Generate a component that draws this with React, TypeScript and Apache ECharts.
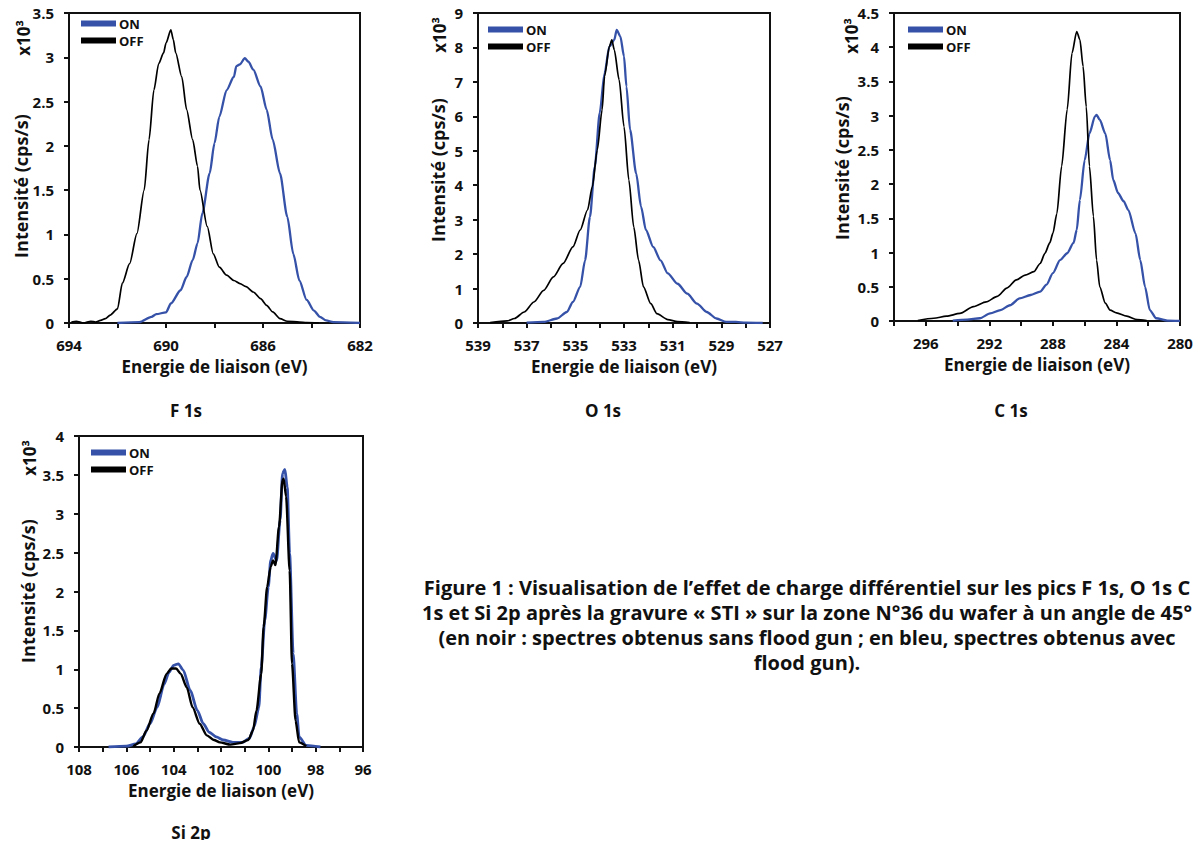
import React, { useEffect, useRef } from "react";
import * as echarts from "echarts";

type Pt = [number, number];

const SERIES_NAMES = ["ON", "OFF"];
const PANEL_TITLES = ["F 1s", "O 1s", "C 1s", "Si 2p"];
const X_AXIS_TITLE = "Energie de liaison (eV)";
const Y_AXIS_TITLE = "Intensité (cps/s)";
const Y_UNIT = "x10³";
const CAPTION_LINES = [
  "Figure 1 : Visualisation de l’effet de charge différentiel sur les pics F 1s, O 1s C",
  "1s et Si 2p après la gravure « STI » sur la zone N°36 du wafer à un angle de 45°",
  "(en noir : spectres obtenus sans flood gun ; en bleu, spectres obtenus avec",
  "flood gun).",
];

// x ranges (eV), y ranges (x10^3 cps/s)
const X_RANGES: [number, number][] = [[682, 694], [527, 539], [280, 298], [96, 108]];
const X_TICK_STEP = [2, 1, 2, 1];
const X_LABEL_STEP = [4, 2, 4, 2];
const Y_MAX = [3.5, 9, 4.5, 4];
const Y_STEP = [0.5, 1, 0.5, 0.5];

const F1S_OFF: Pt[] = [
  [693.9, 0.01], [693.7, 0.02], [693.4, 0.0], [693.1, 0.02], [692.9, 0.01], [692.7, 0.03], [692.5, 0.05], [692.3, 0.09],
  [692.0, 0.16], [691.8, 0.45], [691.5, 0.67], [691.2, 1.01], [690.9, 1.5], [690.7, 2.07],
  [690.5, 2.63], [690.3, 2.93], [690.1, 3.05], [690.0, 3.16], [689.8, 3.31], [689.7, 3.2],
  [689.6, 3.05], [689.35, 2.78], [689.15, 2.41], [688.9, 2.07], [688.7, 1.77], [688.6, 1.5],
  [688.3, 1.09], [688.05, 0.78], [687.8, 0.63], [687.5, 0.54], [687.2, 0.48], [686.95, 0.445],
  [686.7, 0.41], [686.4, 0.35], [686.1, 0.275], [685.85, 0.2], [685.6, 0.125], [685.3, 0.05],
  [685.0, 0.02], [684.5, 0.01], [684.2, 0.005], [683.7, 0.0],
];
const F1S_ON: Pt[] = [
  [692.0, 0.0], [691.1, 0.01], [690.6, 0.07], [690.4, 0.1], [690.0, 0.12], [689.8, 0.22],
  [689.4, 0.37], [689.15, 0.52], [688.9, 0.71], [688.7, 0.9], [688.5, 1.24], [688.2, 1.69],
  [688.0, 2.03], [687.8, 2.33], [687.5, 2.63], [687.2, 2.78], [687.1, 2.9], [686.95, 2.92],
  [686.75, 2.99], [686.6, 2.95], [686.4, 2.86], [686.1, 2.67], [685.85, 2.41], [685.6, 2.07],
  [685.3, 1.69], [685.0, 1.2], [684.75, 0.78], [684.5, 0.48], [684.2, 0.26], [683.9, 0.14],
  [683.65, 0.07], [683.4, 0.03], [683.1, 0.01], [682.0, 0.0],
];
const O1S_OFF: Pt[] = [
  [538.5, 0.01], [537.8, 0.06], [537.5, 0.13], [537.1, 0.32], [536.7, 0.61], [536.3, 0.95],
  [535.9, 1.34], [535.5, 1.73], [535.1, 2.21], [534.8, 2.7], [534.5, 3.28], [534.3, 3.96],
  [534.1, 5.02], [533.9, 6.19], [533.8, 7.16], [533.6, 8.03], [533.5, 8.22], [533.4, 7.93],
  [533.2, 7.06], [533.0, 5.7], [532.8, 4.15], [532.6, 2.79], [532.4, 1.82], [532.2, 1.05],
  [531.9, 0.56], [531.65, 0.27], [531.2, 0.1], [530.8, 0.04], [530.3, 0.01],
];
const O1S_ON: Pt[] = [
  [537.0, 0.01], [536.3, 0.03], [535.75, 0.13], [535.35, 0.32], [535.1, 0.61], [534.8, 1.05],
  [534.6, 1.82], [534.4, 3.08], [534.2, 4.54], [534.0, 6.09], [533.8, 7.25], [533.6, 8.03],
  [533.4, 8.22], [533.3, 8.51], [533.15, 8.32], [533.0, 7.74], [532.9, 6.87], [532.75, 5.61],
  [532.5, 4.34], [532.3, 3.38], [532.1, 2.7], [531.8, 2.21], [531.5, 1.82], [531.2, 1.44],
  [530.8, 1.14], [530.4, 0.85], [530.0, 0.56], [529.6, 0.32], [529.2, 0.13], [528.8, 0.03],
  [528.4, 0.03], [528.0, 0.01], [527.3, 0.0],
];
const C1S_OFF: Pt[] = [
  [296.5, 0.005], [295.5, 0.04], [294.7, 0.07], [293.85, 0.11], [293.0, 0.21], [292.2, 0.28],
  [291.5, 0.36], [290.9, 0.48], [290.3, 0.6], [289.75, 0.67], [289.2, 0.72], [288.8, 0.84],
  [288.5, 0.99], [288.2, 1.14], [288.0, 1.28], [287.75, 1.57], [287.45, 2.26], [287.1, 3.09],
  [286.8, 3.91], [286.5, 4.23], [286.3, 4.11], [286.1, 3.72], [285.9, 3.13], [285.7, 2.26],
  [285.45, 1.53], [285.25, 0.89], [285.05, 0.5], [284.7, 0.26], [284.4, 0.16], [284.0, 0.12],
  [283.35, 0.07], [282.7, 0.02], [282.1, 0.005],
];
const C1S_ON: Pt[] = [
  [294.3, 0.005], [293.4, 0.02], [292.6, 0.04], [291.95, 0.11], [291.3, 0.16], [290.7, 0.23],
  [290.1, 0.33], [289.4, 0.38], [288.8, 0.43], [288.4, 0.53], [288.0, 0.7], [287.55, 0.89],
  [287.1, 0.99], [286.7, 1.14], [286.5, 1.33], [286.3, 1.77], [286.0, 2.35], [285.7, 2.74],
  [285.35, 2.99], [285.25, 3.01], [285.05, 2.94], [284.7, 2.74], [284.4, 2.35], [284.2, 2.06],
  [283.9, 1.87], [283.55, 1.75], [283.25, 1.62], [282.8, 1.28], [282.5, 0.89], [282.2, 0.5],
  [281.9, 0.16], [281.5, 0.04], [280.8, 0.005], [280.0, 0.0],
];
const SI2P_OFF: Pt[] = [
  [105.7, 0.01], [105.4, 0.06], [105.15, 0.21], [104.85, 0.43], [104.6, 0.69], [104.3, 0.94],
  [104.1, 1.01], [103.9, 1.01], [103.7, 0.94], [103.45, 0.77], [103.2, 0.51], [102.9, 0.3],
  [102.6, 0.15], [102.3, 0.09], [102.05, 0.06], [101.6, 0.03], [101.2, 0.05], [100.85, 0.09],
  [100.65, 0.21], [100.5, 0.47], [100.3, 0.94], [100.2, 1.54], [100.05, 2.06], [99.9, 2.32],
  [99.8, 2.4], [99.7, 2.34], [99.55, 2.83], [99.4, 3.43], [99.35, 3.45], [99.25, 3.22],
  [99.1, 2.27], [99.0, 1.07], [98.85, 0.34], [98.7, 0.06], [98.4, 0.01],
];
const SI2P_ON: Pt[] = [
  [106.75, 0.0], [106.0, 0.01], [105.6, 0.04], [105.3, 0.13], [105.0, 0.3], [104.7, 0.51],
  [104.4, 0.81], [104.2, 0.96], [104.0, 1.05], [103.8, 1.07], [103.6, 0.99], [103.3, 0.73],
  [103.0, 0.47], [102.75, 0.3], [102.5, 0.19], [102.2, 0.13], [101.9, 0.09], [101.5, 0.06],
  [101.1, 0.06], [100.8, 0.11], [100.6, 0.26], [100.4, 0.51], [100.3, 1.03], [100.15, 1.63],
  [100.0, 2.06], [99.9, 2.4], [99.8, 2.49], [99.65, 2.4], [99.5, 2.92], [99.4, 3.52],
  [99.3, 3.57], [99.2, 3.34], [99.1, 2.49], [98.95, 1.2], [98.8, 0.43], [98.7, 0.13],
  [98.4, 0.02], [97.8, 0.0],
];

const ON_DATA = [F1S_ON, O1S_ON, C1S_ON, SI2P_ON];
const OFF_DATA = [F1S_OFF, O1S_OFF, C1S_OFF, SI2P_OFF];

// layout (pixels)
const GRIDS = [
  { left: 69, top: 13, width: 291, height: 310 },
  { left: 478, top: 13, width: 292, height: 310 },
  { left: 894, top: 13, width: 286, height: 308 },
  { left: 79, top: 436, width: 284, height: 311 },
];
const LEGEND_POS = [
  { left: 81, top: 16 },
  { left: 488, top: 22 },
  { left: 908, top: 22 },
  { left: 91, top: 445 },
];
const YTITLE_POS = [
  { x: 21, y: 186 },
  { x: 438, y: 170 },
  { x: 842, y: 168 },
  { x: 28, y: 591 },
];
const UNIT_POS = [
  { x: 23, y: 38 },
  { x: 439, y: 35 },
  { x: 851, y: 36 },
  { x: 29, y: 458 },
];
const TITLE_POS = [
  { x: 186, y: 410 },
  { x: 603, y: 410 },
  { x: 1011, y: 410 },
  { x: 191, y: 832 },
];

const BLUE = "#3552a8";
const INK = "#111111";
const FONT = "'Open Sans', Lato, sans-serif";

export default function App() {
  const ref = useRef<HTMLDivElement>(null);
  useEffect(() => {
    if (!ref.current) return;
    const chart = echarts.init(ref.current, undefined, { renderer: "svg" });

    const xAxis = X_RANGES.map(([mn, mx], i) => ({
      type: "value",
      gridIndex: i,
      min: mn,
      max: mx,
      inverse: true,
      interval: X_TICK_STEP[i],
      name: X_AXIS_TITLE,
      nameLocation: "middle",
      nameGap: 35,
      nameTextStyle: { color: INK, fontFamily: FONT, fontWeight: "bold", fontSize: 17 },
      splitLine: { show: false },
      axisLine: { show: true, onZero: false, lineStyle: { color: INK, width: 2 } },
      axisTick: { show: true, inside: false, length: 5, lineStyle: { color: INK, width: 2 } },
      axisLabel: {
        color: INK,
        fontFamily: FONT,
        fontWeight: "bold",
        fontSize: 15,
        margin: 14,
        showMinLabel: true,
        showMaxLabel: true,
        formatter: (v: number) => {
          const k = Math.round(v - mn);
          return k % X_LABEL_STEP[i] === 0 ? String(Math.round(v)) : "";
        },
      },
    }));

    const yAxis = Y_MAX.map((mx, i) => ({
      type: "value",
      gridIndex: i,
      min: 0,
      max: mx,
      interval: Y_STEP[i],
      splitLine: { show: false },
      axisLine: { show: true, onZero: false, lineStyle: { color: INK, width: 2 } },
      axisTick: { show: true, inside: false, length: 5, lineStyle: { color: INK, width: 2 } },
      axisLabel: {
        color: INK,
        fontFamily: FONT,
        fontWeight: "bold",
        fontSize: 15,
        margin: 15,
      },
    }));

    const series: any[] = [];
    for (let i = 0; i < 4; i++) {
      const w = i === 3 ? 2.8 : 2.3;
      series.push({
        name: SERIES_NAMES[0],
        type: "line",
        xAxisIndex: i,
        yAxisIndex: i,
        data: ON_DATA[i],
        showSymbol: false,
        smooth: 0.25,
        smoothMonotone: "x",
        color: BLUE,
        itemStyle: { color: BLUE },
        lineStyle: { color: BLUE, width: w },
        z: 2,
      });
      series.push({
        name: SERIES_NAMES[1],
        type: "line",
        xAxisIndex: i,
        yAxisIndex: i,
        data: OFF_DATA[i],
        showSymbol: false,
        smooth: 0.25,
        smoothMonotone: "x",
        color: "#000000",
        itemStyle: { color: "#000000" },
        lineStyle: { color: "#000000", width: i === 3 ? 2.4 : 1.7 },
        z: 3,
      });
    }

    const legend = LEGEND_POS.map((p) => ({
      left: p.left,
      top: p.top,
      orient: "vertical",
      padding: 0,
      itemGap: 2,
      itemWidth: 35,
      itemHeight: 6,
      icon: "rect",
      selectedMode: false,
      data: SERIES_NAMES,
      textStyle: { color: INK, fontFamily: FONT, fontWeight: "bold", fontSize: 13, lineHeight: 15, padding: [0, 0, 0, -2] },
    }));

    const graphic: any[] = [];
    YTITLE_POS.forEach((p) => {
      graphic.push({
        type: "text",
        x: p.x,
        y: p.y,
        rotation: Math.PI / 2,
        style: {
          text: Y_AXIS_TITLE,
          fill: INK,
          font: `bold 18px ${FONT}`,
          textAlign: "center",
          textVerticalAlign: "middle",
        },
      });
    });
    UNIT_POS.forEach((p) => {
      graphic.push({
        type: "text",
        x: p.x,
        y: p.y,
        rotation: Math.PI / 2,
        style: {
          text: Y_UNIT,
          fill: INK,
          font: `bold 17px ${FONT}`,
          textAlign: "center",
          textVerticalAlign: "middle",
        },
      });
    });
    TITLE_POS.forEach((p, i) => {
      graphic.push({
        type: "text",
        x: p.x,
        y: p.y,
        style: {
          text: PANEL_TITLES[i],
          fill: INK,
          font: `bold 17px ${FONT}`,
          textAlign: "center",
          textVerticalAlign: "middle",
        },
      });
    });
    CAPTION_LINES.forEach((t, i) => {
      graphic.push({
        type: "text",
        x: 807,
        y: 587 + i * 25,
        style: {
          text: t,
          fill: INK,
          font: `bold 20px ${FONT}`,
          textAlign: "center",
          textVerticalAlign: "middle",
        },
      });
    });

    chart.setOption({
      animation: false,
      backgroundColor: "#ffffff",
      grid: GRIDS.map((g) => ({ ...g, show: true, borderColor: INK, borderWidth: 2, backgroundColor: "transparent" })),
      xAxis,
      yAxis,
      legend,
      series,
      graphic,
    });
    return () => chart.dispose();
  }, []);
  return <div ref={ref} style={{ width: 1202, height: 848, margin: -8 }} />;
}
